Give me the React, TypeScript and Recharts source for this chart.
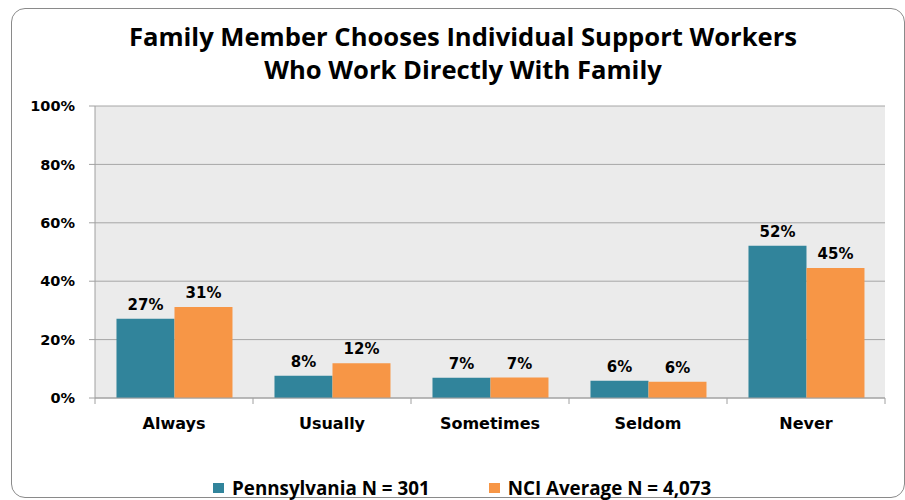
import React from 'react'
import { BarChart, Bar, XAxis, YAxis, CartesianGrid, Legend, LabelList } from 'recharts'

const categories = ['Always', 'Usually', 'Sometimes', 'Seldom', 'Never']
const pennsylvania = [27.1, 7.6, 6.9, 5.9, 52.1]
const nciAverage = [31.2, 11.9, 7.0, 5.6, 44.5]
const yTicks = [0, 20, 40, 60, 80, 100]

const series = [
  { key: 'pa', name: 'Pennsylvania N = 301', color: '#31849b' },
  { key: 'nci', name: 'NCI Average N = 4,073', color: '#f79646' },
]

const data = categories.map((name, i) => ({ name, pa: pennsylvania[i], nci: nciAverage[i] }))

const axisFont = '"DejaVu Sans", Verdana, sans-serif'
const titleFont = '"Open Sans", Lato, sans-serif'

const CategoryTick = (props: any) => {
  const { x, y, payload, index } = props
  const half = payload.offset ?? 79
  return (
    <g>
      <line x1={x - half} y1={y} x2={x - half} y2={y + 6} stroke="#a0a0a0" />
      {index === categories.length - 1 && (
        <line x1={x + half} y1={y} x2={x + half} y2={y + 6} stroke="#a0a0a0" />
      )}
      <text x={x} y={y + 31} textAnchor="middle" fontFamily={axisFont} fontWeight="bold" fontSize={16} fill="#000">
        {payload.value}
      </text>
    </g>
  )
}

const LegendContent = () => (
  <div style={{ height: 20, lineHeight: '20px', display: 'flex', paddingLeft: 213, fontFamily: titleFont, fontWeight: 'bold', fontSize: 18.8, color: '#000' }}>
    {series.map((s) => (
      <div key={s.key} style={{ display: 'flex', alignItems: 'center', marginRight: 59 }}>
        <span style={{ width: 11, height: 10, background: s.color, marginRight: 8, display: 'inline-block' }} />
        <span>{s.name}</span>
      </div>
    ))}
  </div>
)

const App = () => {
  return (
    <div style={{ position: 'absolute', left: 0, top: 0, width: 905, height: 500, overflow: 'hidden', background: '#fff' }}>
      <div style={{ position: 'absolute', left: 11, top: 8, width: 892, height: 488, border: '1.5px solid #8a8a8a', borderRadius: 14 }} />
      <div style={{ position: 'absolute', left: 12, top: 20, width: 902, textAlign: 'center', fontFamily: titleFont, fontWeight: 'bold', fontSize: 25.6, lineHeight: '33px', color: '#000' }}>
        Family Member Chooses Individual Support Workers
        <br />
        Who Work Directly With Family
      </div>
      <div style={{ position: 'absolute', left: 0, top: 0 }}>
        <BarChart width={905} height={500} data={data} margin={{ top: 106, right: 20, left: 0, bottom: 2 }} barCategoryGap="13.6%" barGap={0}>
          <CartesianGrid vertical={false} stroke="#a6a6a6" fill="#ebebeb" />
          <XAxis dataKey="name" stroke="#a0a0a0" tickSize={0} tickMargin={0} height={80} tick={<CategoryTick />} interval={0} />
          <YAxis
            domain={[0, 100]}
            ticks={yTicks}
            width={95}
            stroke="#a0a0a0"
            tickSize={6}
            tickMargin={14}
            tickFormatter={(v: number) => `${v}%`}
            tick={{ fill: '#000', fontFamily: axisFont, fontWeight: 'bold', fontSize: 14.5 }}
          />
          <Legend verticalAlign="bottom" content={<LegendContent />} />
          {series.map((s) => (
            <Bar key={s.key} dataKey={s.key} name={s.name} fill={s.color} isAnimationActive={false}>
              <LabelList
                dataKey={s.key}
                position="top"
                offset={9}
                formatter={(v: any) => `${Math.round(Number(v))}%`}
                style={{ fill: '#000', fontFamily: axisFont, fontWeight: 'bold', fontSize: 15 }}
              />
            </Bar>
          ))}
        </BarChart>
      </div>
    </div>
  )
}

export default App
